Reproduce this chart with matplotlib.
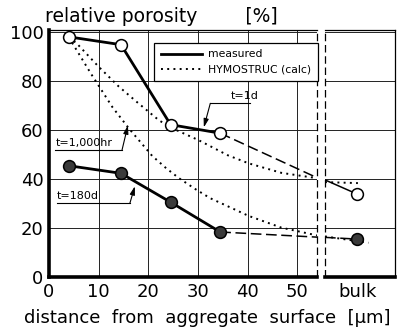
import matplotlib.pyplot as plt

# measured, t = 1d (open circles)
x_1d = [4, 14.5, 24.5, 34.5]
y_1d = [98.2, 95.0, 62.3, 58.8]
y_1d_edge = [40.6, 39.7]      # value at the break (left end, right start)
y_1d_bulk = 33.9

# measured, t = 180d (filled circles)
x_180d = [4, 14.5, 24.5, 34.5]
y_180d = [45.5, 42.4, 30.6, 18.4]
y_180d_edge = [16.3, 16.2]
y_180d_bulk = 15.5

# HYMOSTRUC (calc) curves
x_calc_a = [4, 5.6, 10, 14, 17.8, 22.2, 25.2, 30.2, 36, 40.2, 46.8, 54]
y_calc_a = [98, 95.5, 86, 78, 71.4, 64, 60.5, 55.9, 49.8, 46.5, 42.6, 40.4]
y_calc_a_bulk = [38.8, 38.4]

x_calc_b = [4, 8.5, 12.8, 16.2, 20.8, 23.6, 26.2, 29.6, 32.5, 36.8, 40.2, 46.8, 54]
y_calc_b = [98, 83, 69.4, 60.5, 49.5, 44.5, 40.4, 35.8, 32.2, 28.2, 25.0, 20.2, 17.0]
y_calc_b_bulk = [16.6, 14.0]

bulk_pos = 0.46
xticks = [0, 10, 20, 30, 40, 50]
yticks = [0, 20, 40, 60, 80, 100]

plt.rcParams['font.family'] = 'DejaVu Sans'

fig = plt.figure(figsize=(3.99, 3.28), dpi=100)
ax = fig.add_axes([0.1228, 0.1555, 0.6717, 0.753])
ax2 = fig.add_axes([0.8145, 0.1555, 0.1755, 0.753])

for a in (ax, ax2):
    a.set_ylim(0, 101)
    a.set_yticks(yticks)
    a.grid(True, axis='y', color='#222222', lw=0.7)
    a.tick_params(length=0, labelsize=13, pad=4)
    a.spines['bottom'].set_linewidth(2.6)
    a.spines['top'].set_linewidth(0.9)
ax.spines['left'].set_linewidth(2.6)
ax.spines['right'].set_visible(False)
ax2.spines['left'].set_visible(False)
ax2.spines['right'].set_linewidth(0.9)

ax.set_xlim(0, 54)
ax.set_xticks(xticks)
ax.grid(True, axis='x', color='#222222', lw=0.7)
ax.axvline(54, color='k', lw=0.9, ls=(0, (6, 3)), clip_on=False)
ax2.set_xlim(0, 1)
ax2.set_xticks([bulk_pos])
ax2.set_xticklabels(['bulk'])
ax2.set_yticklabels([])
ax2.axvline(0, color='k', lw=0.9, ls=(0, (6, 3)), clip_on=False)

dot = (0, (1, 2.2))
dash = (0, (7, 3))

# calc curves
ax.plot(x_calc_a, y_calc_a, color='k', lw=1.4, ls=dot)
ax.plot(x_calc_b, y_calc_b, color='k', lw=1.4, ls=dot)
ax2.plot([0, 0.47], y_calc_a_bulk, color='k', lw=1.4, ls=dot)
ax2.plot([0, 0.62], y_calc_b_bulk, color='k', lw=1.4, ls=dot)

# measured t=1d
ax.plot(x_1d, y_1d, color='k', lw=2.0, marker='o', ms=8.5,
        mfc='white', mec='k', mew=1.1, zorder=5)
ax.plot([x_1d[-1], 54], [y_1d[-1], y_1d_edge[0]], color='k', lw=1.1, ls=dash)
ax2.plot([0, bulk_pos], [y_1d_edge[1], y_1d_bulk], color='k', lw=1.1)
ax2.plot([bulk_pos], [y_1d_bulk], marker='o', ms=8.5, mfc='white',
         mec='k', mew=1.1, zorder=5)

# measured t=180d
ax.plot(x_180d, y_180d, color='k', lw=2.0, marker='o', ms=8.5,
        mfc='#3a3a3a', mec='k', mew=1.1, zorder=5)
ax.plot([x_180d[-1], 54], [y_180d[-1], y_180d_edge[0]], color='k', lw=1.1, ls=dash)
ax2.plot([0, bulk_pos], [y_180d_edge[1], y_180d_bulk], color='k', lw=1.1, ls=dash)
ax2.plot([bulk_pos], [y_180d_bulk], marker='o', ms=8.5, mfc='#3a3a3a',
         mec='k', mew=1.1, zorder=5)

# labels with underline and leader
notes = [('t=1d', 39.5, 71.0, 32.5, 40.5, (31.2, 61.2)),
         ('t=1,000hr', 7.2, 51.8, 1.2, 14.7, (15.9, 62.0)),
         ('t=180d', 5.7, 30.2, 1.6, 16.3, (17.3, 37.1))]
for txt, tx, uy, ux0, ux1, tip in notes:
    ax.text(tx, uy + 1.0, txt, fontsize=8, ha='center', va='bottom')
    ax.plot([ux0, ux1], [uy, uy], color='k', lw=0.8)
    end = ux0 if txt == 't=1d' else ux1
    ax.annotate('', xy=tip, xytext=(end, uy),
                arrowprops=dict(arrowstyle='-|>,head_length=0.5,head_width=0.15',
                                color='k', lw=0.8, shrinkA=0, shrinkB=0))

# legend
h1, = ax.plot([], [], color='k', lw=2.0)
h2, = ax.plot([], [], color='k', lw=1.4, ls=dot)
leg = fig.legend([h1, h2], ['measured', 'HYMOSTRUC (calc)'], loc='upper left',
                 bbox_to_anchor=(0.386, 0.869), fontsize=7.8, handlelength=3.8,
                 handletextpad=0.6, fancybox=False, framealpha=1, edgecolor='k',
                 borderaxespad=0, borderpad=0.6, labelspacing=0.5)
leg.get_frame().set_linewidth(0.9)

fig.text(0.113, 0.951, 'relative porosity        [%]', fontsize=13.5, ha='left', va='center')
fig.text(0.52, 0.03, 'distance  from  aggregate  surface  [μm]', fontsize=13,
         ha='center', va='center')

fig.savefig('out.png', dpi=100)
